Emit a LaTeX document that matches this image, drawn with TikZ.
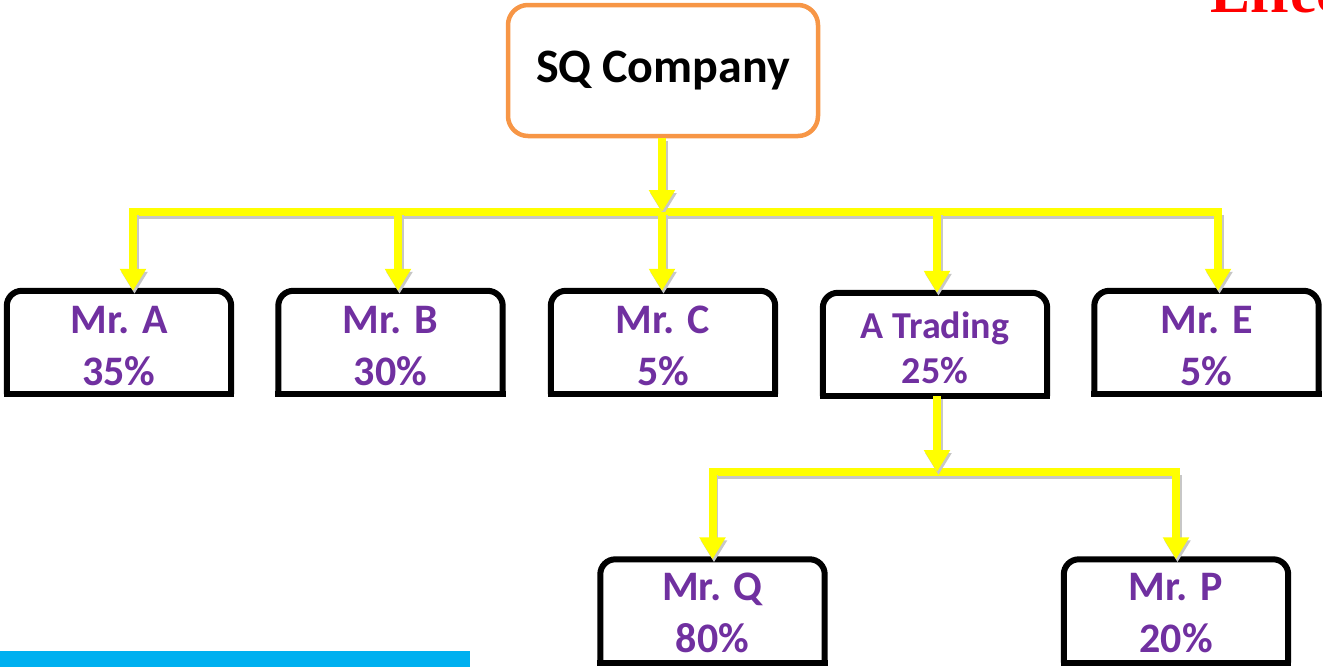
\documentclass[tikz,border=0pt]{standalone}
\usepackage{fontspec}
\setmainfont{Carlito}
\newfontfamily\titlefont{Liberation Serif}
\usepackage{xcolor}
\usetikzlibrary{arrows.meta,positioning,calc}
\definecolor{rootorange}{HTML}{F79646}
\definecolor{sharepurple}{HTML}{7030A0}
\definecolor{linkyellow}{HTML}{FFFF00}
\definecolor{barblue}{HTML}{00B0F0}
\definecolor{headred}{HTML}{FF0000}

\begin{document}
\begin{tikzpicture}[
  x=1pt, y=-1pt,
  root/.style={draw=rootorange, line width=4.5pt, rounded corners=20pt, fill=white, align=center,
    minimum width=310pt, minimum height=131pt, inner sep=0pt, font=\fontsize{48}{56}\selectfont\bfseries},
  holder/.style={minimum width=224pt, minimum height=103pt, inner sep=0pt},
  share/.style={align=center, inner sep=0pt, yshift=-3.5pt, text=sharepurple,
    font=\fontsize{42}{52}\selectfont\bfseries},
  outline/.style={line width=6pt, black},
  yline/.style={line width=8pt, linkyellow, line cap=rect,
    preaction={draw=black!22, line width=8pt, transform canvas={xshift=1.5pt, yshift=-3pt}}},
  yarrow/.style={line width=8pt, linkyellow, -{Triangle[length=22pt, width=25pt]},
    preaction={draw=black!22, line width=8pt, transform canvas={xshift=1.5pt, yshift=-3pt}}}
]
\useasboundingbox (0,0) rectangle (1323,667);
\clip (0,0) rectangle (1323,667);

% heading, cut off at the top edge
\node[anchor=base west, inner sep=0pt, text=headred, font=\fontsize{60}{60}\selectfont\titlefont\bfseries] (head) at (1210,12) {Effec};

% bottom bar
\fill[barblue] (0,651) rectangle (470,667);

% company
\node[root] (sq) at (663,70.5) {SQ Company};

% first level
\node[holder, label={[share]center:{Mr. A\\35\%}}] (ma) at (119,342.5) {};
\node[holder, label={[share]center:{Mr. B\\30\%}}] (mb) at (390.5,342.5) {};
\node[holder, label={[share]center:{Mr. C\\5\%}}] (mc) at (663,342.5) {};
\node[holder, label={[share, font=\fontsize{38}{45}\selectfont\bfseries]center:{A Trading\\25\%}}] (at) at (935,344.5) {};
\node[holder, label={[share]center:{Mr. E\\5\%}}] (me) at (1206.5,342.5) {};

% second level
\node[holder, label={[share, yshift=1.5pt]center:{Mr. Q\\80\%}}] (mq) at (712.5,611) {};
\node[holder, label={[share, yshift=1.5pt]center:{Mr. P\\20\%}}] (mp) at (1176,611) {};

% box outlines, rounded only at the top
\foreach \n in {ma,mb,mc,at,me,mq,mp} {
  \draw[outline, rounded corners=15pt] (\n.south west) -- (\n.north west) -- (\n.north east) -- (\n.south east);
  \draw[outline, line cap=rect] (\n.south west) -- (\n.south east);
}

% links from the company
\coordinate (hub) at (662,212);
\draw[yline] ([xshift=14pt]ma.north |- hub) -- ([xshift=11.5pt]me.north |- hub);
\draw[yarrow] (sq.south -| hub) -- (hub);
\foreach \n/\dx in {ma/14, mb/7.5, mc/-1, at/2, me/11.5}
  \draw[yarrow] ([xshift=\dx pt]\n.north |- hub) -- ([xshift=\dx pt]\n.north);

% links from A Trading
\coordinate (hubb) at (937,472);
\draw[yline] (mq.north |- hubb) -- (mp.north |- hubb);
\draw[yarrow] (at.south -| hubb) -- (hubb);
\foreach \n in {mq,mp}
  \draw[yarrow] (\n.north |- hubb) -- (\n.north);
\end{tikzpicture}
\end{document}
